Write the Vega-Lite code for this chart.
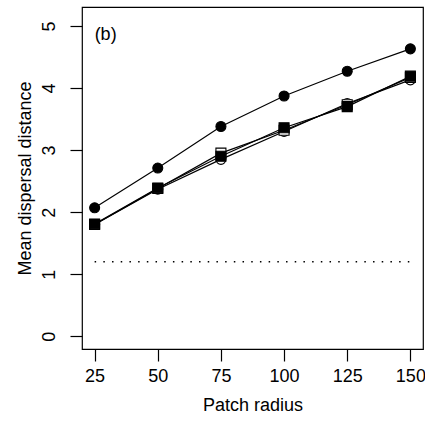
{
  "$schema": "https://vega.github.io/schema/vega-lite/v6.json",
  "width": 341,
  "height": 342,
  "autosize": {"type": "none"},
  "padding": {"left": 82, "top": 7, "right": 2, "bottom": 73},
  "background": "white",
  "config": {
    "view": {"stroke": "black", "strokeWidth": 1.2},
    "font": "Liberation Sans",
    "axis": {
      "domain": false,
      "grid": false,
      "ticks": true,
      "tickSize": 12,
      "tickColor": "black",
      "tickWidth": 1.2,
      "labelFontSize": 18,
      "labelColor": "black",
      "labelFont": "Liberation Sans",
      "titleFontSize": 18,
      "titleFontWeight": "normal",
      "titleColor": "black",
      "titleFont": "Liberation Sans"
    }
  },
  "datasets": {
    "series": [
      {"series": "open circle", "radius": 25, "distance": 1.80},
      {"series": "open circle", "radius": 50, "distance": 2.37},
      {"series": "open circle", "radius": 75, "distance": 2.85},
      {"series": "open circle", "radius": 100, "distance": 3.30},
      {"series": "open circle", "radius": 125, "distance": 3.75},
      {"series": "open circle", "radius": 150, "distance": 4.13},
      {"series": "open square", "radius": 25, "distance": 1.80},
      {"series": "open square", "radius": 50, "distance": 2.38},
      {"series": "open square", "radius": 75, "distance": 2.95},
      {"series": "open square", "radius": 100, "distance": 3.32},
      {"series": "open square", "radius": 125, "distance": 3.73},
      {"series": "open square", "radius": 150, "distance": 4.17},
      {"series": "filled square", "radius": 25, "distance": 1.81},
      {"series": "filled square", "radius": 50, "distance": 2.39},
      {"series": "filled square", "radius": 75, "distance": 2.90},
      {"series": "filled square", "radius": 100, "distance": 3.36},
      {"series": "filled square", "radius": 125, "distance": 3.70},
      {"series": "filled square", "radius": 150, "distance": 4.19},
      {"series": "filled circle", "radius": 25, "distance": 2.07},
      {"series": "filled circle", "radius": 50, "distance": 2.71},
      {"series": "filled circle", "radius": 75, "distance": 3.38},
      {"series": "filled circle", "radius": 100, "distance": 3.87},
      {"series": "filled circle", "radius": 125, "distance": 4.27},
      {"series": "filled circle", "radius": 150, "distance": 4.63}
    ],
    "reference": [{"level": 1.2, "start": 25, "end": 150}],
    "panel": [{"label": "(b)"}]
  },
  "layer": [
    {
      "data": {"name": "reference"},
      "mark": {"type": "rule", "color": "black", "strokeWidth": 1.5, "strokeDash": [1.5, 7.2]},
      "encoding": {
        "x": {"field": "start", "type": "quantitative", "scale": {"domain": [20, 155], "nice": false, "zero": false},
          "axis": {"values": [25, 50, 75, 100, 125, 150], "format": "d", "title": "Patch radius", "labelPadding": 6, "titlePadding": 11, "labelFlush": false}},
        "x2": {"field": "end"},
        "y": {"field": "level", "type": "quantitative", "scale": {"domain": [-0.204, 5.304], "nice": false, "zero": false},
          "axis": {"values": [0, 1, 2, 3, 4, 5], "format": "d", "title": "Mean dispersal distance", "labelAngle": 270, "labelAlign": "center", "labelBaseline": "alphabetic", "labelPadding": 16, "titlePadding": 6, "labelFlush": false}}
      }
    },
    {
      "data": {"name": "series"},
      "mark": {"type": "line", "color": "black", "strokeWidth": 1.2},
      "encoding": {
        "x": {"field": "radius", "type": "quantitative"},
        "y": {"field": "distance", "type": "quantitative"},
        "detail": {"field": "series"}
      }
    },
    {
      "data": {"name": "series"},
      "mark": {"type": "point", "filled": false, "stroke": "black", "strokeWidth": 1.1, "opacity": 1, "fillOpacity": 1, "size": 100},
      "encoding": {
        "x": {"field": "radius", "type": "quantitative"},
        "y": {"field": "distance", "type": "quantitative"},
        "shape": {"field": "series", "type": "nominal", "scale": {"domain": ["open circle", "open square", "filled square", "filled circle"], "range": ["circle", "square", "square", "circle"]}, "legend": null},
        "fill": {"field": "series", "type": "nominal", "scale": {"domain": ["open circle", "open square", "filled square", "filled circle"], "range": ["white", "white", "black", "black"]}, "legend": null}
      }
    },
    {
      "data": {"name": "panel"},
      "mark": {"type": "text", "align": "left", "baseline": "middle", "fontSize": 18, "font": "Liberation Sans", "color": "black"},
      "encoding": {"text": {"field": "label", "type": "nominal"}, "x": {"datum": 25}, "y": {"datum": 4.86}}
    }
  ]
}
